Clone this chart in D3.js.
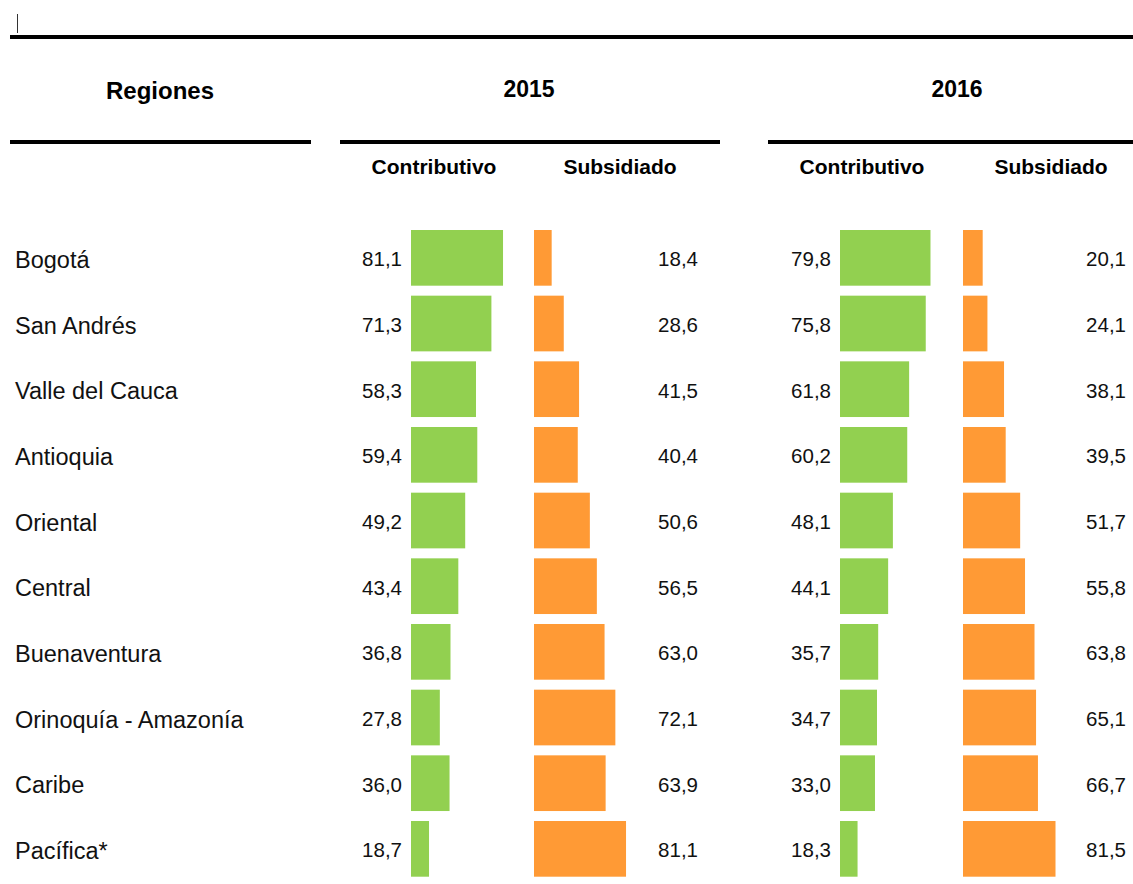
<!DOCTYPE html>
<html>
<head>
<meta charset="utf-8">
<script src="https://cdn.jsdelivr.net/npm/d3@7"></script>
<style>
  body { margin: 0; background: #fff; }
  svg { display: block; font-family: "Liberation Sans", Arial, sans-serif; }
</style>
</head>
<body>
<div id="graph"></div>
<script>
// --------------------------------------
//  Data
// --------------------------------------

const regions = [
  "Bogotá", "San Andrés", "Valle del Cauca", "Antioquia", "Oriental",
  "Central", "Buenaventura", "Orinoquía - Amazonía", "Caribe", "Pacífica*"
];
const contributivo2015 = [81.1, 71.3, 58.3, 59.4, 49.2, 43.4, 36.8, 27.8, 36.0, 18.7];
const subsidiado2015   = [18.4, 28.6, 41.5, 40.4, 50.6, 56.5, 63.0, 72.1, 63.9, 81.1];
const contributivo2016 = [79.8, 75.8, 61.8, 60.2, 48.1, 44.1, 35.7, 34.7, 33.0, 18.3];
const subsidiado2016   = [20.1, 24.1, 38.1, 39.5, 51.7, 55.8, 63.8, 65.1, 66.7, 81.5];

const years = ["2015", "2016"];
const regimes = ["Contributivo", "Subsidiado"];

// --------------------------------------
//  Canvas
// --------------------------------------

const width = 1133;
const height = 884;

const svg = d3.select("#graph")
  .append("svg")
  .attr("width", width)
  .attr("height", height);

const green = "#92D050";
const orange = "#FF9A35";

// --------------------------------------
//  Scales & format
// --------------------------------------

const y = d3.scaleBand()
  .domain(regions)
  .range([230, 876.7])
  .paddingInner(0.152)
  .paddingOuter(0);

const x = d3.scaleLinear()
  .domain([3.5, 81.5])
  .range([0, 92.5]);

const es = d3.formatLocale({ decimal: ",", thousands: ".", grouping: [3], currency: ["$", ""] });
const format = es.format(".1f");

// --------------------------------------
//  Header rules and titles
// --------------------------------------

svg.append("line")
  .attr("x1", 17.5).attr("x2", 17.5)
  .attr("y1", 14).attr("y2", 33)
  .attr("stroke", "#333").attr("stroke-width", 1);

svg.append("line")
  .attr("x1", 10).attr("x2", width)
  .attr("y1", 37).attr("y2", 37)
  .attr("stroke", "#000").attr("stroke-width", 4);

const rules = [[10, 311], [340, 720], [768, width]];
svg.selectAll(".rule")
  .data(rules)
  .join("line")
  .attr("class", "rule")
  .attr("x1", d => d[0]).attr("x2", d => d[1])
  .attr("y1", 142).attr("y2", 142)
  .attr("stroke", "#000").attr("stroke-width", 4);

svg.append("text")
  .attr("x", 160).attr("y", 99)
  .attr("text-anchor", "middle")
  .attr("font-size", 24).attr("font-weight", "bold")
  .text("Regiones");

const yearX = [529, 957];
svg.selectAll(".year")
  .data(years)
  .join("text")
  .attr("class", "year")
  .attr("x", (d, i) => yearX[i]).attr("y", 97)
  .attr("text-anchor", "middle")
  .attr("font-size", 23).attr("font-weight", "bold")
  .text(d => d);

const subX = [434, 620, 862, 1051];
svg.selectAll(".sub")
  .data([0, 1, 2, 3])
  .join("text")
  .attr("class", "sub")
  .attr("x", d => subX[d]).attr("y", 174)
  .attr("text-anchor", "middle")
  .attr("font-size", 21).attr("font-weight", "bold")
  .text(d => regimes[d % 2]);

// --------------------------------------
//  Region labels
// --------------------------------------

svg.append("g")
  .selectAll("text")
  .data(regions)
  .join("text")
  .attr("x", 15)
  .attr("y", d => y(d) + y.bandwidth() / 2 + 10)
  .attr("font-size", 23.5)
  .attr("fill", "#111")
  .text(d => d);

// --------------------------------------
//  Bar panels
// --------------------------------------

const panels = [
  { values: contributivo2015, x0: 411, labelX: 402, color: green },
  { values: subsidiado2015,   x0: 534, labelX: 698, color: orange },
  { values: contributivo2016, x0: 840, labelX: 831, color: green },
  { values: subsidiado2016,   x0: 963, labelX: 1126, color: orange }
];

panels.forEach(p => {
  const g = svg.append("g");

  g.selectAll("rect")
    .data(regions)
    .join("rect")
    .attr("x", p.x0)
    .attr("y", d => y(d))
    .attr("width", (d, i) => x(p.values[i]))
    .attr("height", y.bandwidth())
    .attr("fill", p.color);

  g.selectAll("text")
    .data(regions)
    .join("text")
    .attr("x", p.labelX)
    .attr("y", d => y(d) + y.bandwidth() / 2 + 8.5)
    .attr("text-anchor", "end")
    .attr("font-size", 20.5)
    .attr("fill", "#111")
    .text((d, i) => format(p.values[i]));
});
</script>
</body>
</html>
